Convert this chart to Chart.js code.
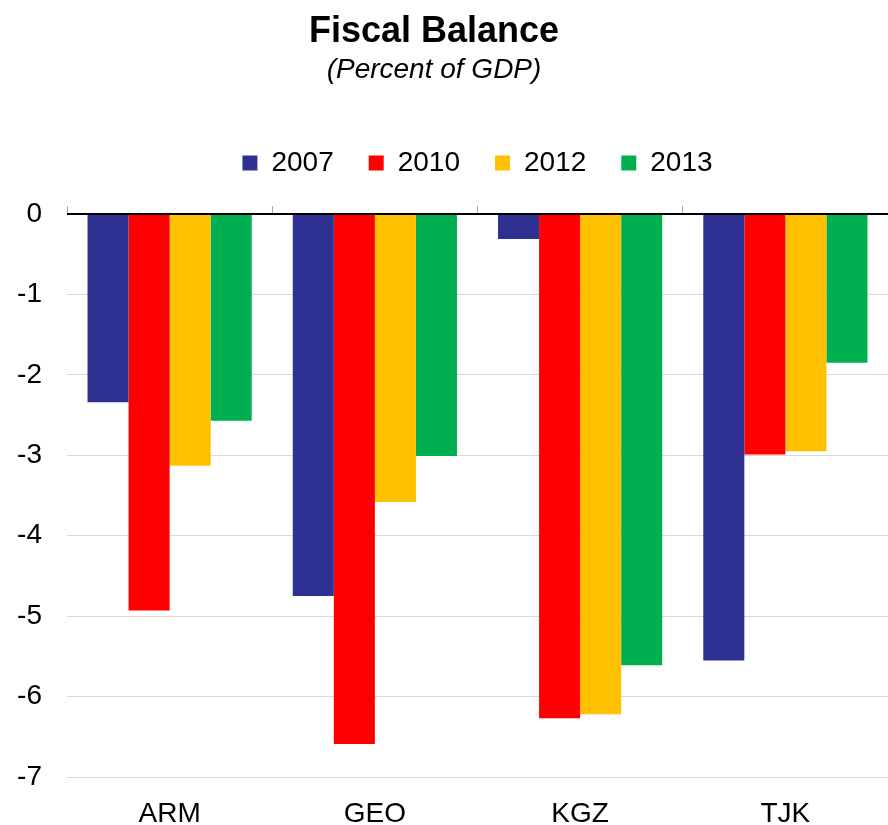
<!DOCTYPE html>
<html>
<head>
<meta charset="utf-8">
<script src="https://cdn.jsdelivr.net/npm/chart.js@4/dist/chart.umd.min.js"></script>
<style>
  html, body { margin: 0; padding: 0; background: #fff; }
  #wrap { position: relative; width: 888px; height: 825px; }
  #title { position: absolute; left: 0; top: 12px; width: 868px; text-align: center; line-height: 36px;
    font-family: "Liberation Sans", Arial, sans-serif; font-weight: bold; font-size: 36px; color: #000; }
  #subtitle { position: absolute; left: 0; top: 55px; width: 868px; text-align: center; line-height: 28px;
    font-family: "Liberation Sans", Arial, sans-serif; font-style: italic; font-size: 28px; color: #000; }
  canvas { position: absolute; left: 0; top: 0; }
</style>
</head>
<body>
<div id="wrap">
  <canvas id="chart" width="888" height="825"></canvas>
  <div id="title">Fiscal Balance</div>
  <div id="subtitle">(Percent of GDP)</div>
</div>
<script>
const countries = ["ARM", "GEO", "KGZ", "TJK"];
const years = ["2007", "2010", "2012", "2013"];
const colors = ["#2E3192", "#FF0000", "#FFC000", "#00B050"];
const fb2007 = [-2.34, -4.75, -0.31, -5.55];
const fb2010 = [-4.93, -6.59, -6.27, -2.99];
const fb2012 = [-3.13, -3.58, -6.22, -2.95];
const fb2013 = [-2.57, -3.01, -5.61, -1.85];
const yTicks = [0, -1, -2, -3, -4, -5, -6, -7];

const series = [fb2007, fb2010, fb2012, fb2013];
const font = { family: "'Liberation Sans', Arial, sans-serif", size: 28 };

new Chart(document.getElementById("chart"), {
  type: "bar",
  data: {
    labels: countries,
    datasets: years.map((y, i) => ({
      label: y,
      data: series[i],
      backgroundColor: colors[i],
      borderWidth: 0,
      barPercentage: 1.0,
      categoryPercentage: 0.8,
    })),
  },
  options: {
    responsive: false,
    animation: false,
    layout: { padding: { top: 114, right: 0, left: 0, bottom: 0 } },
    plugins: {
      legend: {
        position: "top",
        fullSize: false,
        labels: {
          color: "#000",
          font: font,
          boxWidth: 15,
          boxHeight: 15,
          padding: 35,
        },
      },
      tooltip: { enabled: false },
    },
    scales: {
      x: {
        position: "bottom",
        grid: { display: false, drawTicks: false },
        border: { display: false },
        ticks: { color: "#000", font: font, padding: 20 },
        afterFit: (axis) => { axis.height = 48; },
      },
      x2: {
        position: "top",
        type: "category",
        labels: countries,
        offset: true,
        grid: { display: true, drawOnChartArea: false, offset: true, tickLength: 8, color: "#a6a6a6" },
        border: { display: false },
        ticks: { display: false },
        afterFit: (axis) => { axis.height = 27; },
      },
      y: {
        min: -7,
        max: 0,
        afterBuildTicks: (axis) => { axis.ticks = yTicks.map(v => ({ value: v })); },
        grid: {
          drawTicks: false,
          color: (ctx) => ctx.tick && ctx.tick.value === 0 ? "#000" : "#d9d9d9",
          lineWidth: (ctx) => ctx.tick && ctx.tick.value === 0 ? 2 : 1,
        },
        border: { display: false },
        ticks: { color: "#000", font: font, padding: 25 },
        afterFit: (axis) => { axis.width = 67; },
      },
    },
  },
});
</script>
</body>
</html>
